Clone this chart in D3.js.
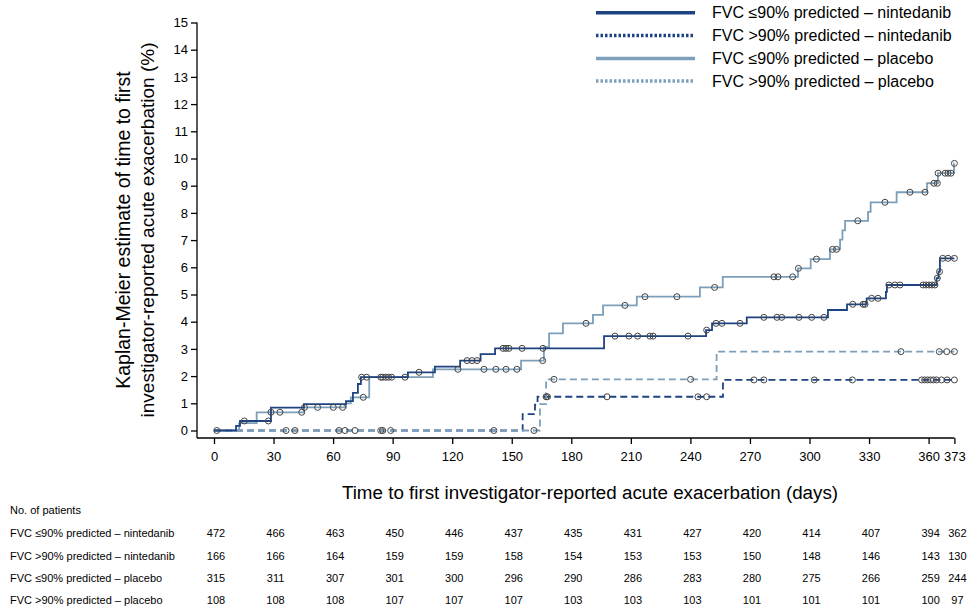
<!DOCTYPE html>
<html>
<head>
<meta charset="utf-8">
<script src="https://d3js.org/d3.v7.min.js"></script>
<style>
body { margin: 0; background: #fff; }
text { font-family: "Liberation Sans", Arial, sans-serif; fill: #000; }
.tick text { font-size: 13px; }
</style>
</head>
<body>
<svg id="chart" width="968" height="611"></svg>
<script>
// x ticks (days) and y ticks (%)
const dayTicks = [0, 30, 60, 90, 120, 150, 180, 210, 240, 270, 300, 330, 360, 373];
const pctTicks = d3.range(0, 16);

const seriesNames = [
  "FVC \u226490% predicted \u2013 nintedanib",
  "FVC >90% predicted \u2013 nintedanib",
  "FVC \u226490% predicted \u2013 placebo",
  "FVC >90% predicted \u2013 placebo"
];

// KM step points [day, cumulative %]
const nintLow = [[0,0],[11.1,0.17],[13.1,0.35],[28.7,0.84],[45.3,0.97],[66.5,1.08],[70,1.38],[72.5,1.71],[74,1.96],
  [97.7,2.14],[111.3,2.35],[124,2.57],[134.3,2.81],[141.6,3.02],[196.5,3.47],[247.9,3.69],[250.9,3.94],[268.4,4.16],
  [309.3,4.43],[318.9,4.64],[328.8,4.86],[338.5,5.1],[339,5.35],[364,5.6],[365,5.84],[365.7,6.33],[373,6.33]];
const nintHigh = [[0,0],[155.5,0.6],[161.7,0.95],[163,1.24],[256.4,1.86],[373,1.86]];
const plaLow = [[0,0],[12.7,0.27],[21.5,0.67],[45.3,0.85],[66.5,1.0],[68.9,1.22],[78.2,1.96],[110.3,2.25],[154.7,2.57],
  [166.2,3.06],[168.8,3.57],[175.8,3.94],[190.9,4.25],[196,4.6],[213,4.92],[244.8,5.26],[256.3,5.65],[294.2,5.96],
  [300.6,6.3],[310.3,6.66],[315.4,7.02],[316.6,7.36],[317.9,7.71],[329.5,8.04],[330.8,8.39],[343.9,8.76],[359.2,9.09],
  [364.7,9.46],[372.8,9.82],[373,9.82]];
const plaHigh = [[0,0],[164.2,0.97],[167.3,1.88],[253.2,2.9],[373,2.9]];

// censored observations (days)
const nintLowCens = [1.4,15.3,27.4,74.4,76.9,84,85,86.6,88,89.5,96.2,103.3,127.5,130,132.5,145.6,147.1,148.6,155.2,165.7,
  202,209,213.4,219.6,221.2,238.8,248.2,252.9,255.9,265,277,283.6,286,294.7,301.1,307.3,321.8,327,328,331.3,334.5,
  340,343,345.6,357.2,358.7,360.2,361.7,363.2,364.4,365.5,367.1,369.8,373];
const nintHighCens = [40.8,66,71,85,89,167.3,168,198,243.8,248.2,272,277,302.4,321.6,356.5,358,359.5,361,362.5,364,366.5,369.3,373];
const plaLowCens = [28.7,33.2,44.2,45.6,52.2,60.1,64.8,75.2,122.9,136,142,147.1,152.6,165.6,187.4,207,217.1,233.2,252.2,
  282.1,284.1,291.5,294.4,303.5,311.6,313.6,324.3,338,350.6,358.2,362.7,364.4,364.8,368.3,369.8,371.3,373];
const plaHighCens = [36.3,63,84,141,161.2,171.3,240.1,346.1,365.4,369.1,373];

// number at risk
const riskNintLow = [472,466,463,450,446,437,435,431,427,420,414,407,394,362];
const riskNintHigh = [166,166,164,159,159,158,154,153,153,150,148,146,143,130];
const riskPlaLow = [315,311,307,301,300,296,290,286,283,280,275,266,259,244];
const riskPlaHigh = [108,108,108,107,107,107,103,103,103,101,101,101,100,97];

const dark = "#1d4382";
const light = "#7d9fb9";

const svg = d3.select("#chart");
const x = d3.scaleLinear().domain([0, 373]).range([214, 954.4]);
const y = d3.scaleLinear().domain([0, 15]).range([430.5, 22.5]);
const axisX = 197, axisY = 438;

// axes
const gy = svg.append("g").attr("transform", "translate(" + axisX + ",0)")
  .call(d3.axisLeft(y).tickValues(pctTicks).tickSize(6).tickPadding(3));
gy.select(".domain").remove();
gy.append("line").attr("x1", 0).attr("x2", 0).attr("y1", y(15)).attr("y2", axisY).attr("stroke", "#000").attr("stroke-width", 1.3);
gy.selectAll(".tick line").attr("stroke-width", 1.3);

const gx = svg.append("g").attr("transform", "translate(0," + axisY + ")")
  .call(d3.axisBottom(x).tickValues(dayTicks).tickSize(6).tickPadding(8));
gx.select(".domain").remove();
gx.append("line").attr("x1", axisX).attr("x2", x(373)).attr("y1", 0).attr("y2", 0).attr("stroke", "#000").attr("stroke-width", 1.3);
gx.selectAll(".tick line").attr("stroke-width", 1.3);

// axis titles
svg.append("text").attr("transform", "translate(130,230) rotate(-90)").attr("text-anchor", "middle")
  .style("font-size", "19.5px").text("Kaplan-Meier estimate of time to first");
svg.append("text").attr("transform", "translate(154,230) rotate(-90)").attr("text-anchor", "middle")
  .style("font-size", "19px").text("investigator-reported acute exacerbation (%)");
svg.append("text").attr("x", 590).attr("y", 499).attr("text-anchor", "middle")
  .style("font-size", "18.8px").text("Time to first investigator-reported acute exacerbation (days)");

// curves
const series = [
  { steps: nintHigh, cens: nintHighCens, color: dark, dash: "7,4" },
  { steps: plaHigh, cens: plaHighCens, color: light, dash: "7,4" },
  { steps: plaLow, cens: plaLowCens, color: light, dash: null },
  { steps: nintLow, cens: nintLowCens, color: dark, dash: null }
];
const line = d3.line().x(d => x(d[0])).y(d => y(d[1])).curve(d3.curveStepAfter);
function valueAt(steps, t) {
  let v = 0;
  steps.forEach(s => { if (s[0] <= t) v = s[1]; });
  return v;
}
series.forEach(s => {
  svg.append("path").datum(s.steps).attr("d", line).attr("fill", "none")
    .attr("stroke", s.color).attr("stroke-width", 1.8)
    .attr("stroke-dasharray", s.dash);
});
series.forEach(s => {
  svg.append("g").selectAll("circle").data(s.cens).enter().append("circle")
    .attr("cx", d => x(d)).attr("cy", d => y(valueAt(s.steps, d)))
    .attr("r", 3).attr("fill", "none").attr("stroke", "#444").attr("stroke-width", 1);
});

// legend
const legend = [
  { color: dark, dash: null },
  { color: dark, dash: "2.5,2" },
  { color: light, dash: null },
  { color: light, dash: "2.5,2" }
];
const legendY = [12.7, 35.5, 58.5, 81];
legend.forEach((l, i) => {
  svg.append("line").attr("x1", 596).attr("x2", 695).attr("y1", legendY[i]).attr("y2", legendY[i])
    .attr("stroke", l.color).attr("stroke-width", 3.5).attr("stroke-dasharray", l.dash);
  svg.append("text").attr("x", 712).attr("y", legendY[i] + 5.5).style("font-size", "16px").text(seriesNames[i]);
});

// number at risk table
svg.append("text").attr("x", 10).attr("y", 514).style("font-size", "11px").text("No. of patients");
const riskRows = [riskNintLow, riskNintHigh, riskPlaLow, riskPlaHigh];
const rowY = [537, 560, 582, 604];
riskRows.forEach((row, i) => {
  svg.append("text").attr("x", 10).attr("y", rowY[i]).style("font-size", "11px").text(seriesNames[i]);
  svg.append("g").selectAll("text").data(row).enter().append("text")
    .attr("x", (d, j) => x(dayTicks[j]) + (j === dayTicks.length - 1 ? 3 : 2))
    .attr("y", rowY[i]).attr("text-anchor", "middle").style("font-size", "11px").text(d => d);
});
</script>
</body>
</html>
